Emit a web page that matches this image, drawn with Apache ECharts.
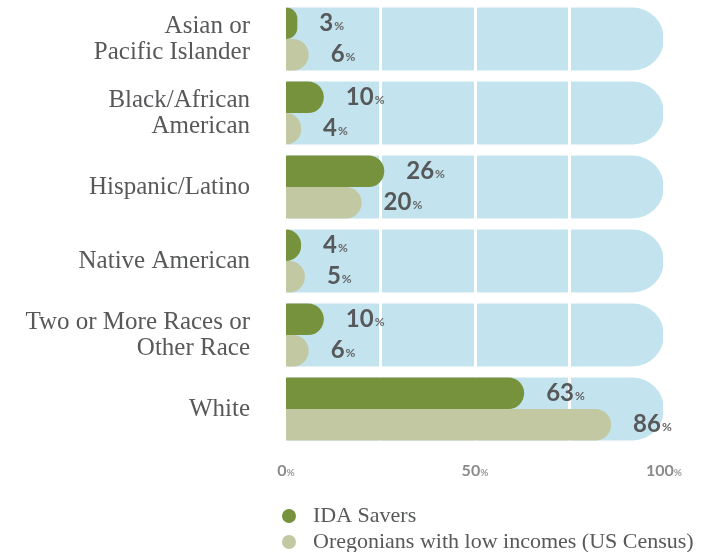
<!DOCTYPE html>
<html>
<head>
<meta charset="utf-8">
<script src="https://cdn.jsdelivr.net/npm/echarts@6/dist/echarts.min.js"></script>
<style>html,body{margin:0;padding:0;background:#fff;}#c{width:717px;height:552px;}</style>
</head>
<body>
<div id="c"></div>
<script>
const categories = ['Asian or\nPacific Islander', 'Black/African\nAmerican', 'Hispanic/Latino', 'Native American', 'Two or More Races or\nOther Race', 'White'];
const idaSavers = [3, 10, 26, 4, 10, 63];
const oregonians = [6, 4, 20, 5, 6, 86];
const fullScale = [100, 100, 100, 100, 100, 100];
const xTickLabels = [0, 50, 100];
const seriesNames = ['IDA Savers', 'Oregonians with low incomes (US Census)'];

const chart = echarts.init(document.getElementById('c'), null, {renderer: 'canvas'});
const numFont = 'Lato, "Open Sans", sans-serif';
const valueLabel = {
  show: true,
  position: 'right',
  distance: 22,
  formatter: p => '{n|' + p.value + '}{p|%}',
  rich: {
    n: {fontFamily: numFont, fontWeight: 'bold', fontSize: 24, color: '#57585a'},
    p: {fontFamily: numFont, fontWeight: 'bold', fontSize: 12, color: '#666', padding: [5, 0, 0, 1]}
  }
};
const legendText = {fontFamily: '"Liberation Serif", serif', fontSize: 22, color: '#57585a', padding: [0, 0, 0, 12]};
chart.setOption({
  animation: false,
  grid: {left: 286, right: 53, top: 2, height: 444, containLabel: false},
  legend: [
    {
      data: [seriesNames[0]], left: 277, top: 500, icon: 'circle',
      itemWidth: 14, itemHeight: 14, textStyle: legendText
    },
    {
      data: [seriesNames[1]], left: 277, top: 526, icon: 'circle',
      itemWidth: 14, itemHeight: 14, textStyle: legendText
    }
  ],
  xAxis: {
    type: 'value', min: 0, max: 100, interval: 25, z: 3,
    axisLine: {show: false}, axisTick: {show: false},
    splitLine: {show: true, lineStyle: {color: '#ffffff', width: 3}},
    axisLabel: {
      margin: 17,
      formatter: v => xTickLabels.indexOf(v) >= 0 ? '{n|' + v + '}{p|%}' : '',
      rich: {
        n: {fontFamily: numFont, fontWeight: 'bold', fontSize: 16, color: '#8a8a8a'},
        p: {fontFamily: numFont, fontWeight: 'bold', fontSize: 10, color: '#9a9a9a', padding: [3, 0, 0, 0]}
      }
    }
  },
  yAxis: [
    {
      type: 'category', data: categories, inverse: true,
      axisLine: {show: false}, axisTick: {show: false}, splitLine: {show: false},
      axisLabel: {margin: 36, fontFamily: '"Liberation Serif", serif', fontSize: 25, color: '#57585a', lineHeight: 26, align: 'right'}
    },
    {
      type: 'category', data: categories, inverse: true, show: false
    }
  ],
  series: [
    {
      name: 'bg', type: 'bar', yAxisIndex: 1, data: fullScale, barWidth: 63, z: 2, silent: true,
      itemStyle: {color: '#c3e4ee', borderRadius: [0, 31.5, 31.5, 0]}
    },
    {
      name: seriesNames[0], type: 'bar', yAxisIndex: 0, data: idaSavers, barWidth: 31.5, barGap: '0%', z: 4,
      itemStyle: {color: '#76923c', borderRadius: [0, 15.75, 15.75, 0]},
      label: valueLabel
    },
    {
      name: seriesNames[1], type: 'bar', yAxisIndex: 0, data: oregonians, barWidth: 31.5, barGap: '0%', z: 4,
      itemStyle: {color: '#c2c8a2', borderRadius: [0, 15.75, 15.75, 0]},
      label: valueLabel
    }
  ]
});
</script>
</body>
</html>
